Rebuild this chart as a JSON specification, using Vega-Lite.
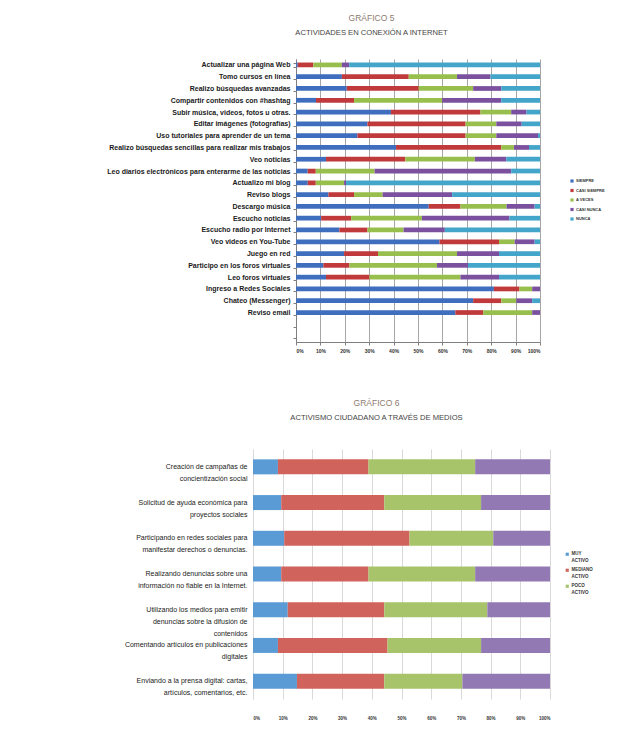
{
  "$schema": "https://vega.github.io/schema/vega-lite/v6.json",
  "background": "white",
  "padding": {"left": 72, "top": 13, "right": 0, "bottom": 0},
  "config": {"view": {"stroke": null}, "font": "Liberation Sans"},
  "spacing": 44,
  "resolve": {"scale": {"color": "independent"}, "legend": {"color": "independent"}},
  "datasets": {
    "orden_frecuencias": [
      {"frecuencia": "SIEMPRE", "orden": 1},
      {"frecuencia": "CASI SIEMPRE", "orden": 2},
      {"frecuencia": "A VECES", "orden": 3},
      {"frecuencia": "CASI NUNCA", "orden": 4},
      {"frecuencia": "NUNCA", "orden": 5}
    ],
    "orden_niveles": [
      {"nivel": "MUY ACTIVO", "orden": 1},
      {"nivel": "MEDIANO ACTIVO", "orden": 2},
      {"nivel": "POCO ACTIVO", "orden": 3},
      {"nivel": "NADA ACTIVO", "orden": 4}
    ],
    "actividades": [
      {"actividad": "Actualizar una página Web", "frecuencia": "SIEMPRE", "porcentaje": 0.7},
      {"actividad": "Actualizar una página Web", "frecuencia": "CASI SIEMPRE", "porcentaje": 6.4},
      {"actividad": "Actualizar una página Web", "frecuencia": "A VECES", "porcentaje": 11.7},
      {"actividad": "Actualizar una página Web", "frecuencia": "CASI NUNCA", "porcentaje": 3.0},
      {"actividad": "Actualizar una página Web", "frecuencia": "NUNCA", "porcentaje": 78.2},
      {"actividad": "Tomo cursos en línea", "frecuencia": "SIEMPRE", "porcentaje": 18.8},
      {"actividad": "Tomo cursos en línea", "frecuencia": "CASI SIEMPRE", "porcentaje": 27.4},
      {"actividad": "Tomo cursos en línea", "frecuencia": "A VECES", "porcentaje": 19.8},
      {"actividad": "Tomo cursos en línea", "frecuencia": "CASI NUNCA", "porcentaje": 13.7},
      {"actividad": "Tomo cursos en línea", "frecuencia": "NUNCA", "porcentaje": 20.3},
      {"actividad": "Realizo búsquedas avanzadas", "frecuencia": "SIEMPRE", "porcentaje": 20.8},
      {"actividad": "Realizo búsquedas avanzadas", "frecuencia": "CASI SIEMPRE", "porcentaje": 29.5},
      {"actividad": "Realizo búsquedas avanzadas", "frecuencia": "A VECES", "porcentaje": 22.3},
      {"actividad": "Realizo búsquedas avanzadas", "frecuencia": "CASI NUNCA", "porcentaje": 11.5},
      {"actividad": "Realizo búsquedas avanzadas", "frecuencia": "NUNCA", "porcentaje": 15.9},
      {"actividad": "Compartir contenidos con #hashtag", "frecuencia": "SIEMPRE", "porcentaje": 8.2},
      {"actividad": "Compartir contenidos con #hashtag", "frecuencia": "CASI SIEMPRE", "porcentaje": 15.6},
      {"actividad": "Compartir contenidos con #hashtag", "frecuencia": "A VECES", "porcentaje": 36.1},
      {"actividad": "Compartir contenidos con #hashtag", "frecuencia": "CASI NUNCA", "porcentaje": 24.2},
      {"actividad": "Compartir contenidos con #hashtag", "frecuencia": "NUNCA", "porcentaje": 15.9},
      {"actividad": "Subir música, videos, fotos u otras.", "frecuencia": "SIEMPRE", "porcentaje": 38.9},
      {"actividad": "Subir música, videos, fotos u otras.", "frecuencia": "CASI SIEMPRE", "porcentaje": 36.7},
      {"actividad": "Subir música, videos, fotos u otras.", "frecuencia": "A VECES", "porcentaje": 12.6},
      {"actividad": "Subir música, videos, fotos u otras.", "frecuencia": "CASI NUNCA", "porcentaje": 6.3},
      {"actividad": "Subir música, videos, fotos u otras.", "frecuencia": "NUNCA", "porcentaje": 5.5},
      {"actividad": "Editar imágenes (fotografías)", "frecuencia": "SIEMPRE", "porcentaje": 29.3},
      {"actividad": "Editar imágenes (fotografías)", "frecuencia": "CASI SIEMPRE", "porcentaje": 40.2},
      {"actividad": "Editar imágenes (fotografías)", "frecuencia": "A VECES", "porcentaje": 12.6},
      {"actividad": "Editar imágenes (fotografías)", "frecuencia": "CASI NUNCA", "porcentaje": 10.4},
      {"actividad": "Editar imágenes (fotografías)", "frecuencia": "NUNCA", "porcentaje": 7.5},
      {"actividad": "Uso tutoriales para aprender de un tema", "frecuencia": "SIEMPRE", "porcentaje": 25.2},
      {"actividad": "Uso tutoriales para aprender de un tema", "frecuencia": "CASI SIEMPRE", "porcentaje": 44.3},
      {"actividad": "Uso tutoriales para aprender de un tema", "frecuencia": "A VECES", "porcentaje": 12.6},
      {"actividad": "Uso tutoriales para aprender de un tema", "frecuencia": "CASI NUNCA", "porcentaje": 17.1},
      {"actividad": "Uso tutoriales para aprender de un tema", "frecuencia": "NUNCA", "porcentaje": 0.8},
      {"actividad": "Realizo búsquedas sencillas para realizar mis trabajos", "frecuencia": "SIEMPRE", "porcentaje": 41.0},
      {"actividad": "Realizo búsquedas sencillas para realizar mis trabajos", "frecuencia": "CASI SIEMPRE", "porcentaje": 43.1},
      {"actividad": "Realizo búsquedas sencillas para realizar mis trabajos", "frecuencia": "A VECES", "porcentaje": 5.2},
      {"actividad": "Realizo búsquedas sencillas para realizar mis trabajos", "frecuencia": "CASI NUNCA", "porcentaje": 6.2},
      {"actividad": "Realizo búsquedas sencillas para realizar mis trabajos", "frecuencia": "NUNCA", "porcentaje": 4.5},
      {"actividad": "Veo noticias", "frecuencia": "SIEMPRE", "porcentaje": 12.3},
      {"actividad": "Veo noticias", "frecuencia": "CASI SIEMPRE", "porcentaje": 32.5},
      {"actividad": "Veo noticias", "frecuencia": "A VECES", "porcentaje": 28.5},
      {"actividad": "Veo noticias", "frecuencia": "CASI NUNCA", "porcentaje": 12.9},
      {"actividad": "Veo noticias", "frecuencia": "NUNCA", "porcentaje": 13.8},
      {"actividad": "Leo diarios electrónicos para enterarme de las noticias", "frecuencia": "SIEMPRE", "porcentaje": 4.8},
      {"actividad": "Leo diarios electrónicos para enterarme de las noticias", "frecuencia": "CASI SIEMPRE", "porcentaje": 3.3},
      {"actividad": "Leo diarios electrónicos para enterarme de las noticias", "frecuencia": "A VECES", "porcentaje": 24.1},
      {"actividad": "Leo diarios electrónicos para enterarme de las noticias", "frecuencia": "CASI NUNCA", "porcentaje": 56.0},
      {"actividad": "Leo diarios electrónicos para enterarme de las noticias", "frecuencia": "NUNCA", "porcentaje": 11.8},
      {"actividad": "Actualizo mi blog", "frecuencia": "SIEMPRE", "porcentaje": 4.8},
      {"actividad": "Actualizo mi blog", "frecuencia": "CASI SIEMPRE", "porcentaje": 3.3},
      {"actividad": "Actualizo mi blog", "frecuencia": "A VECES", "porcentaje": 11.6},
      {"actividad": "Actualizo mi blog", "frecuencia": "CASI NUNCA", "porcentaje": 0.8},
      {"actividad": "Actualizo mi blog", "frecuencia": "NUNCA", "porcentaje": 79.5},
      {"actividad": "Reviso blogs", "frecuencia": "SIEMPRE", "porcentaje": 13.3},
      {"actividad": "Reviso blogs", "frecuencia": "CASI SIEMPRE", "porcentaje": 10.5},
      {"actividad": "Reviso blogs", "frecuencia": "A VECES", "porcentaje": 11.7},
      {"actividad": "Reviso blogs", "frecuencia": "CASI NUNCA", "porcentaje": 28.5},
      {"actividad": "Reviso blogs", "frecuencia": "NUNCA", "porcentaje": 36.0},
      {"actividad": "Descargo música", "frecuencia": "SIEMPRE", "porcentaje": 54.4},
      {"actividad": "Descargo música", "frecuencia": "CASI SIEMPRE", "porcentaje": 13.0},
      {"actividad": "Descargo música", "frecuencia": "A VECES", "porcentaje": 18.9},
      {"actividad": "Descargo música", "frecuencia": "CASI NUNCA", "porcentaje": 11.5},
      {"actividad": "Descargo música", "frecuencia": "NUNCA", "porcentaje": 2.2},
      {"actividad": "Escucho noticias", "frecuencia": "SIEMPRE", "porcentaje": 10.3},
      {"actividad": "Escucho noticias", "frecuencia": "CASI SIEMPRE", "porcentaje": 12.3},
      {"actividad": "Escucho noticias", "frecuencia": "A VECES", "porcentaje": 29.0},
      {"actividad": "Escucho noticias", "frecuencia": "CASI NUNCA", "porcentaje": 35.9},
      {"actividad": "Escucho noticias", "frecuencia": "NUNCA", "porcentaje": 12.5},
      {"actividad": "Escucho radio por Internet", "frecuencia": "SIEMPRE", "porcentaje": 17.8},
      {"actividad": "Escucho radio por Internet", "frecuencia": "CASI SIEMPRE", "porcentaje": 11.5},
      {"actividad": "Escucho radio por Internet", "frecuencia": "A VECES", "porcentaje": 14.8},
      {"actividad": "Escucho radio por Internet", "frecuencia": "CASI NUNCA", "porcentaje": 16.9},
      {"actividad": "Escucho radio por Internet", "frecuencia": "NUNCA", "porcentaje": 39.0},
      {"actividad": "Veo videos en You-Tube", "frecuencia": "SIEMPRE", "porcentaje": 58.8},
      {"actividad": "Veo videos en You-Tube", "frecuencia": "CASI SIEMPRE", "porcentaje": 24.4},
      {"actividad": "Veo videos en You-Tube", "frecuencia": "A VECES", "porcentaje": 6.4},
      {"actividad": "Veo videos en You-Tube", "frecuencia": "CASI NUNCA", "porcentaje": 8.2},
      {"actividad": "Veo videos en You-Tube", "frecuencia": "NUNCA", "porcentaje": 2.2},
      {"actividad": "Juego en red", "frecuencia": "SIEMPRE", "porcentaje": 19.7},
      {"actividad": "Juego en red", "frecuencia": "CASI SIEMPRE", "porcentaje": 13.9},
      {"actividad": "Juego en red", "frecuencia": "A VECES", "porcentaje": 32.4},
      {"actividad": "Juego en red", "frecuencia": "CASI NUNCA", "porcentaje": 17.2},
      {"actividad": "Juego en red", "frecuencia": "NUNCA", "porcentaje": 16.8},
      {"actividad": "Participo en los foros virtuales", "frecuencia": "SIEMPRE", "porcentaje": 11.2},
      {"actividad": "Participo en los foros virtuales", "frecuencia": "CASI SIEMPRE", "porcentaje": 10.7},
      {"actividad": "Participo en los foros virtuales", "frecuencia": "A VECES", "porcentaje": 35.9},
      {"actividad": "Participo en los foros virtuales", "frecuencia": "CASI NUNCA", "porcentaje": 12.7},
      {"actividad": "Participo en los foros virtuales", "frecuencia": "NUNCA", "porcentaje": 29.5},
      {"actividad": "Leo foros virtuales", "frecuencia": "SIEMPRE", "porcentaje": 12.3},
      {"actividad": "Leo foros virtuales", "frecuencia": "CASI SIEMPRE", "porcentaje": 17.8},
      {"actividad": "Leo foros virtuales", "frecuencia": "A VECES", "porcentaje": 37.3},
      {"actividad": "Leo foros virtuales", "frecuencia": "CASI NUNCA", "porcentaje": 15.8},
      {"actividad": "Leo foros virtuales", "frecuencia": "NUNCA", "porcentaje": 16.8},
      {"actividad": "Ingreso a Redes Sociales", "frecuencia": "SIEMPRE", "porcentaje": 81.1},
      {"actividad": "Ingreso a Redes Sociales", "frecuencia": "CASI SIEMPRE", "porcentaje": 10.5},
      {"actividad": "Ingreso a Redes Sociales", "frecuencia": "A VECES", "porcentaje": 5.2},
      {"actividad": "Ingreso a Redes Sociales", "frecuencia": "CASI NUNCA", "porcentaje": 3.2},
      {"actividad": "Ingreso a Redes Sociales", "frecuencia": "NUNCA", "porcentaje": 0},
      {"actividad": "Chateo (Messenger)", "frecuencia": "SIEMPRE", "porcentaje": 72.6},
      {"actividad": "Chateo (Messenger)", "frecuencia": "CASI SIEMPRE", "porcentaje": 11.5},
      {"actividad": "Chateo (Messenger)", "frecuencia": "A VECES", "porcentaje": 6.2},
      {"actividad": "Chateo (Messenger)", "frecuencia": "CASI NUNCA", "porcentaje": 6.5},
      {"actividad": "Chateo (Messenger)", "frecuencia": "NUNCA", "porcentaje": 3.2},
      {"actividad": "Reviso email", "frecuencia": "SIEMPRE", "porcentaje": 65.3},
      {"actividad": "Reviso email", "frecuencia": "CASI SIEMPRE", "porcentaje": 11.4},
      {"actividad": "Reviso email", "frecuencia": "A VECES", "porcentaje": 20.1},
      {"actividad": "Reviso email", "frecuencia": "CASI NUNCA", "porcentaje": 3.2},
      {"actividad": "Reviso email", "frecuencia": "NUNCA", "porcentaje": 0}
    ],
    "activismo": [
      {"accion": "Creación de campañas de concientización social", "nivel": "MUY ACTIVO", "porcentaje": 8.4},
      {"accion": "Creación de campañas de concientización social", "nivel": "MEDIANO ACTIVO", "porcentaje": 30.5},
      {"accion": "Creación de campañas de concientización social", "nivel": "POCO ACTIVO", "porcentaje": 35.9},
      {"accion": "Creación de campañas de concientización social", "nivel": "NADA ACTIVO", "porcentaje": 25.2},
      {"accion": "Solicitud de ayuda económica para proyectos sociales", "nivel": "MUY ACTIVO", "porcentaje": 9.5},
      {"accion": "Solicitud de ayuda económica para proyectos sociales", "nivel": "MEDIANO ACTIVO", "porcentaje": 34.7},
      {"accion": "Solicitud de ayuda económica para proyectos sociales", "nivel": "POCO ACTIVO", "porcentaje": 32.6},
      {"accion": "Solicitud de ayuda económica para proyectos sociales", "nivel": "NADA ACTIVO", "porcentaje": 23.2},
      {"accion": "Participando en redes sociales para manifestar derechos o denuncias.", "nivel": "MUY ACTIVO", "porcentaje": 10.5},
      {"accion": "Participando en redes sociales para manifestar derechos o denuncias.", "nivel": "MEDIANO ACTIVO", "porcentaje": 42.2},
      {"accion": "Participando en redes sociales para manifestar derechos o denuncias.", "nivel": "POCO ACTIVO", "porcentaje": 28.2},
      {"accion": "Participando en redes sociales para manifestar derechos o denuncias.", "nivel": "NADA ACTIVO", "porcentaje": 19.1},
      {"accion": "Realizando denuncias sobre una información no fiable en la Internet.", "nivel": "MUY ACTIVO", "porcentaje": 9.5},
      {"accion": "Realizando denuncias sobre una información no fiable en la Internet.", "nivel": "MEDIANO ACTIVO", "porcentaje": 29.4},
      {"accion": "Realizando denuncias sobre una información no fiable en la Internet.", "nivel": "POCO ACTIVO", "porcentaje": 35.9},
      {"accion": "Realizando denuncias sobre una información no fiable en la Internet.", "nivel": "NADA ACTIVO", "porcentaje": 25.2},
      {"accion": "Utilizando los medios para emitir denuncias sobre la difusión de contenidos", "nivel": "MUY ACTIVO", "porcentaje": 11.7},
      {"accion": "Utilizando los medios para emitir denuncias sobre la difusión de contenidos", "nivel": "MEDIANO ACTIVO", "porcentaje": 32.5},
      {"accion": "Utilizando los medios para emitir denuncias sobre la difusión de contenidos", "nivel": "POCO ACTIVO", "porcentaje": 34.7},
      {"accion": "Utilizando los medios para emitir denuncias sobre la difusión de contenidos", "nivel": "NADA ACTIVO", "porcentaje": 21.1},
      {"accion": "Comentando artículos en publicaciones digitales", "nivel": "MUY ACTIVO", "porcentaje": 8.4},
      {"accion": "Comentando artículos en publicaciones digitales", "nivel": "MEDIANO ACTIVO", "porcentaje": 36.9},
      {"accion": "Comentando artículos en publicaciones digitales", "nivel": "POCO ACTIVO", "porcentaje": 31.5},
      {"accion": "Comentando artículos en publicaciones digitales", "nivel": "NADA ACTIVO", "porcentaje": 23.2},
      {"accion": "Enviando a  la prensa digital: cartas, artículos, comentarios, etc.", "nivel": "MUY ACTIVO", "porcentaje": 14.8},
      {"accion": "Enviando a  la prensa digital: cartas, artículos, comentarios, etc.", "nivel": "MEDIANO ACTIVO", "porcentaje": 29.4},
      {"accion": "Enviando a  la prensa digital: cartas, artículos, comentarios, etc.", "nivel": "POCO ACTIVO", "porcentaje": 26.3},
      {"accion": "Enviando a  la prensa digital: cartas, artículos, comentarios, etc.", "nivel": "NADA ACTIVO", "porcentaje": 29.5}
    ]
  },
  "vconcat": [
    {
      "width": 287,
      "height": 283,
      "data": {"name": "actividades"},
      "transform": [
        {"lookup": "frecuencia", "from": {"data": {"name": "orden_frecuencias"}, "key": "frecuencia", "fields": ["orden"]}}
      ],
      "title": {
        "text": "GRÁFICO 5",
        "subtitle": "ACTIVIDADES EN CONEXIÓN A INTERNET",
        "anchor": "middle",
        "frame": "group",
        "dx": -25,
        "offset": 18,
        "font": "Liberation Sans",
        "fontSize": 8.5,
        "fontWeight": "normal",
        "color": "#8d7b6f",
        "subtitleFont": "Liberation Sans",
        "subtitleFontSize": 7.6,
        "subtitleColor": "#444444",
        "subtitlePadding": 7
      },
      "mark": {"type": "bar"},
      "encoding": {
        "y": {
          "field": "actividad",
          "type": "nominal",
          "scale": {
            "domain": [
              "Actualizar una página Web",
              "Tomo cursos en línea",
              "Realizo búsquedas avanzadas",
              "Compartir contenidos con #hashtag",
              "Subir música, videos, fotos u otras.",
              "Editar imágenes (fotografías)",
              "Uso tutoriales para aprender de un tema",
              "Realizo búsquedas sencillas para realizar mis trabajos",
              "Veo noticias",
              "Leo diarios electrónicos para enterarme de las noticias",
              "Actualizo mi blog",
              "Reviso blogs",
              "Descargo música",
              "Escucho noticias",
              "Escucho radio por Internet",
              "Veo videos en You-Tube",
              "Juego en red",
              "Participo en los foros virtuales",
              "Leo foros virtuales",
              "Ingreso a Redes Sociales",
              "Chateo (Messenger)",
              "Reviso email",
              " ",
              "  "
            ],
            "paddingInner": 0.6,
            "paddingOuter": 0.3
          },
          "axis": {
            "title": " ",
            "offset": -43,
            "titleX": -224,
            "titleY": 140,
            "titleAngle": 0,
            "titleAlign": "left",
            "titleFontSize": 6,
            "labelFont": "Liberation Sans",
            "labelFontSize": 7,
            "labelFontWeight": "bold",
            "labelColor": "#1a1a1a",
            "labelLimit": 320,
            "labelPadding": 3,
            "domainColor": "#7f7f7f",
            "tickColor": "#7f7f7f",
            "tickSize": 3,
            "tickBand": "extent"
          }
        },
        "x": {
          "field": "porcentaje",
          "type": "quantitative",
          "stack": "normalize",
          "scale": {"domain": [0, 1], "range": [43, 287]},
          "axis": {
            "title": null,
            "format": ".0%",
            "values": [0, 0.1, 0.2, 0.3, 0.4, 0.5, 0.6, 0.7, 0.8, 0.9, 1],
            "grid": true,
            "gridColor": "#a6a6a6",
            "gridWidth": 1,
            "domainColor": "#7f7f7f",
            "tickColor": "#7f7f7f",
            "tickSize": 3,
            "labelFont": "Liberation Sans",
            "labelFontSize": 5,
            "labelFontWeight": "bold",
            "labelColor": "#333333",
            "labelPadding": 3.5
          }
        },
        "order": {"field": "orden", "type": "quantitative"},
        "color": {
          "field": "frecuencia",
          "type": "nominal",
          "sort": ["SIEMPRE", "CASI SIEMPRE", "A VECES", "CASI NUNCA", "NUNCA"],
          "scale": {
            "domain": ["SIEMPRE", "CASI SIEMPRE", "A VECES", "CASI NUNCA", "NUNCA"],
            "range": ["#3f6ebf", "#c0393b", "#98bf4e", "#7b509f", "#43a5c9"]
          },
          "legend": {
            "title": null,
            "orient": "none",
            "legendX": 317,
            "legendY": 120,
            "symbolType": "square",
            "symbolSize": 10,
            "symbolStrokeWidth": 0,
            "labelFont": "Liberation Sans",
            "labelFontSize": 4,
            "labelFontWeight": "bold",
            "labelColor": "#333333",
            "labelOffset": 2,
            "rowPadding": 5.5
          }
        }
      }
    },
    {
      "width": 297,
      "height": 250,
      "data": {"name": "activismo"},
      "transform": [
        {"lookup": "nivel", "from": {"data": {"name": "orden_niveles"}, "key": "nivel", "fields": ["orden"]}}
      ],
      "title": {
        "text": "GRÁFICO 6",
        "subtitle": "ACTIVISMO CIUDADANO A TRAVÉS DE MEDIOS",
        "anchor": "middle",
        "frame": "group",
        "dx": -25,
        "offset": 27,
        "font": "Liberation Sans",
        "fontSize": 8.5,
        "fontWeight": "normal",
        "color": "#8d7b6f",
        "subtitleFont": "Liberation Sans",
        "subtitleFontSize": 7.6,
        "subtitleColor": "#444444",
        "subtitlePadding": 7
      },
      "mark": {"type": "bar"},
      "encoding": {
        "y": {
          "field": "accion",
          "type": "nominal",
          "sort": null,
          "scale": {"paddingInner": 0.58, "paddingOuter": 0.29},
          "axis": {
            "title": " ",
            "titleX": -181,
            "titleY": 120,
            "titleAngle": 0,
            "titleAlign": "left",
            "titleFontSize": 6,
            "labelFont": "Liberation Sans",
            "labelFontSize": 7,
            "labelLineHeight": 12,
            "labelColor": "#222222",
            "labelLimit": 300,
            "labelPadding": 6,
            "ticks": false,
            "domainColor": "#d9d9d9",
            "labelExpr": "datum.value == 'Creación de campañas de concientización social' ? ['Creación de campañas de', 'concientización social'] : datum.value == 'Solicitud de ayuda económica para proyectos sociales' ? ['Solicitud de ayuda económica para', 'proyectos sociales'] : datum.value == 'Participando en redes sociales para manifestar derechos o denuncias.' ? ['Participando en redes sociales para', 'manifestar derechos o denuncias.'] : datum.value == 'Realizando denuncias sobre una información no fiable en la Internet.' ? ['Realizando denuncias sobre una', 'información no fiable en la Internet.'] : datum.value == 'Utilizando los medios para emitir denuncias sobre la difusión de contenidos' ? ['Utilizando los medios para emitir', 'denuncias sobre la difusión de', 'contenidos'] : datum.value == 'Comentando artículos en publicaciones digitales' ? ['Comentando artículos en publicaciones', 'digitales'] : ['Enviando a  la prensa digital: cartas,', 'artículos, comentarios, etc.']"
          }
        },
        "x": {
          "field": "porcentaje",
          "type": "quantitative",
          "stack": "normalize",
          "scale": {"domain": [0, 1]},
          "axis": {
            "title": null,
            "format": ".0%",
            "values": [0, 0.1, 0.2, 0.3, 0.4, 0.5, 0.6, 0.7, 0.8, 0.9, 1],
            "grid": true,
            "gridColor": "#d9d9d9",
            "domain": false,
            "ticks": false,
            "labelFont": "Liberation Sans",
            "labelFontSize": 4.5,
            "labelFontWeight": "bold",
            "labelColor": "#333333",
            "labelPadding": 16
          }
        },
        "order": {"field": "orden", "type": "quantitative"},
        "color": {
          "field": "nivel",
          "type": "nominal",
          "sort": ["MUY ACTIVO", "MEDIANO ACTIVO", "POCO ACTIVO", "NADA ACTIVO"],
          "scale": {
            "domain": ["MUY ACTIVO", "MEDIANO ACTIVO", "POCO ACTIVO", "NADA ACTIVO"],
            "range": ["#5b9bd5", "#d0635b", "#a7c46b", "#9379b3"]
          },
          "legend": {
            "title": null,
            "values": ["MUY ACTIVO", "MEDIANO ACTIVO", "POCO ACTIVO"],
            "orient": "none",
            "legendX": 312,
            "legendY": 103,
            "symbolType": "square",
            "symbolSize": 10,
            "symbolStrokeWidth": 0,
            "labelFont": "Liberation Sans",
            "labelFontSize": 4.5,
            "labelLineHeight": 7,
            "labelFontWeight": "bold",
            "labelColor": "#333333",
            "labelOffset": 2,
            "labelExpr": "split(datum.label, ' ')",
            "rowPadding": 4
          }
        }
      }
    }
  ]
}
